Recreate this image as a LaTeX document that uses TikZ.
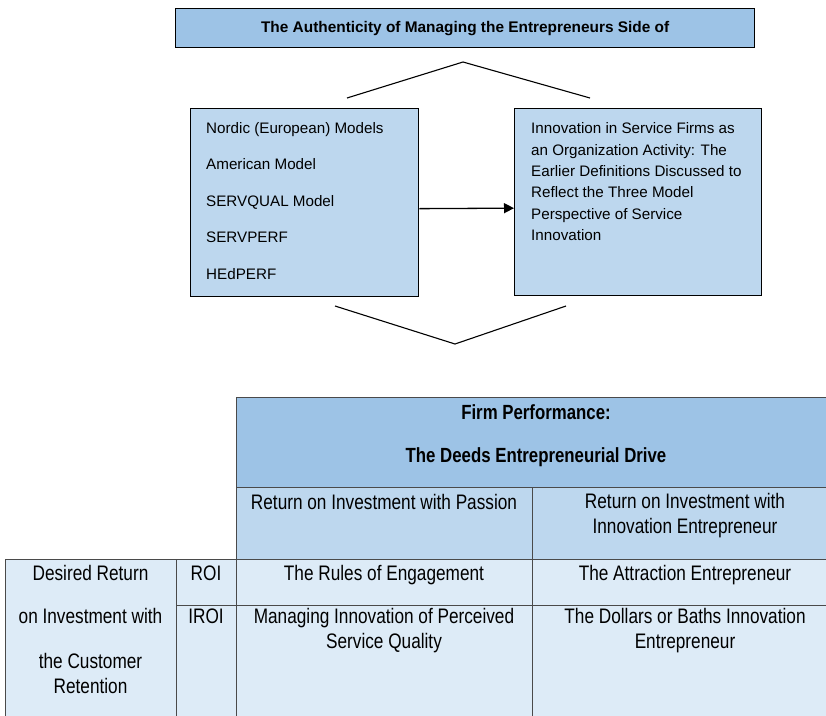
\documentclass[tikz,border=0pt]{standalone}
\usepackage{fontspec}
\setmainfont{Liberation Sans}
\newfontfamily\tabfont[FakeStretch=0.82]{Liberation Sans}
\usetikzlibrary{arrows.meta}
\definecolor{hdrblue}{HTML}{9DC3E6}
\definecolor{boxblue}{HTML}{BDD7EE}
\definecolor{cellblue}{HTML}{DDEBF7}
\definecolor{gridgrey}{HTML}{4A4A4A}
\begin{document}
\begin{tikzpicture}[x=1pt,y=-1pt,
  topbox/.style={draw=black, line width=1.3pt, fill=boxblue, inner sep=0, anchor=north west},
  txt/.style={inner sep=0, anchor=base west, font=\fontsize{15.2}{18}\selectfont},
  cellline/.style={draw=gridgrey, line width=0.8pt},
  ctxt/.style={inner sep=0, anchor=base, font=\tabfont\fontsize{21}{25}\selectfont},
  htxt/.style={inner sep=0, anchor=base, font=\tabfont\bfseries\fontsize{20.5}{24}\selectfont},
  chev/.style={draw=black, line width=1.1pt}
  ]
\useasboundingbox (0,0) rectangle (826,715);
\clip (0,0) rectangle (826,715);

% title
\node[draw=black, line width=1.3pt, fill=hdrblue, minimum width=579, minimum height=39,
      inner sep=0, anchor=north west, font=\bfseries\fontsize{15.4}{18}\selectfont]
      (title) at (175,8) {The Authenticity of Managing the Entrepreneurs Side of};

% upper chevron
\coordinate (ua) at (347,98);
\coordinate (ub) at (463,62);
\coordinate (uc) at (590,98);
\draw[chev] (ua) -- (ub) -- (uc);

% boxes
\node[topbox, minimum width=228, minimum height=188] (lbox) at (190,108) {};
\node[topbox, minimum width=247, minimum height=187] (rbox) at (514,108) {};

\node[txt] (l1) at (206,133) {Nordic (European) Models};
\node[txt] (l2) at (206,169.5) {American Model};
\node[txt] (l3) at (206,206) {SERVQUAL Model};
\node[txt] (l4) at (206,242.5) {SERVPERF};
\node[txt] (l5) at (206,279) {HEdPERF};

\node[txt] (r1) at (531,133.5) {Innovation in Service Firms as};
\node[txt] (r2) at (531,155) {an Organization Activity: The};
\node[txt] (r3) at (531,176.3) {Earlier Definitions Discussed to};
\node[txt] (r4) at (531,197.6) {Reflect the Three Model};
\node[txt] (r5) at (531,219) {Perspective of Service};
\node[txt] (r6) at (531,240.3) {Innovation};

\draw[line width=1.3pt, -{Triangle[length=10pt,width=10pt]}]
  ([yshift=-6pt]lbox.east) -- ([yshift=-6pt]rbox.west);

% lower chevron
\coordinate (da) at (335,306);
\coordinate (db) at (455,344);
\coordinate (dc) at (566,306);
\draw[chev] (da) -- (db) -- (dc);

% table cells
\path[cellline, fill=hdrblue] (236,397) rectangle (840,487);
\path[cellline, fill=boxblue] (236,487) rectangle (532,559);
\path[cellline, fill=boxblue] (532,487) rectangle (840,559);
\path[cellline, fill=cellblue] (5,559) rectangle (176,730);
\path[cellline, fill=cellblue] (176,559) rectangle (236,605);
\path[cellline, fill=cellblue] (176,605) rectangle (236,730);
\path[cellline, fill=cellblue] (236,559) rectangle (532,605);
\path[cellline, fill=cellblue] (532,559) rectangle (840,605);
\path[cellline, fill=cellblue] (236,605) rectangle (532,730);
\path[cellline, fill=cellblue] (532,605) rectangle (840,730);

% table texts
\node[htxt] (h1) at (536,419) {Firm Performance:};
\node[htxt] (h2) at (536,462) {The Deeds Entrepreneurial Drive};

\node[ctxt] (s1) at (384,509) {Return on Investment with Passion};
\node[ctxt] (s2a) at (685,508) {Return on Investment with};
\node[ctxt] (s2b) at (685,533) {Innovation Entrepreneur};

\node[ctxt] (c11) at (384,580) {The Rules of Engagement};
\node[ctxt] (c12) at (685,580) {The Attraction Entrepreneur};
\node[ctxt] (c21a) at (384,623) {Managing Innovation of Perceived};
\node[ctxt] (c21b) at (384,648) {Service Quality};
\node[ctxt] (c22a) at (685,623) {The Dollars or Baths Innovation};
\node[ctxt] (c22b) at (685,648) {Entrepreneur};

\node[ctxt] (d1) at (90.5,580) {Desired Return};
\node[ctxt] (d2) at (90.5,623) {on Investment with};
\node[ctxt] (d3) at (90.5,668) {the Customer};
\node[ctxt] (d4) at (90.5,693) {Retention};

\node[ctxt] (roi) at (206,580) {ROI};
\node[ctxt] (iroi) at (206,623) {IROI};
\end{tikzpicture}
\end{document}
